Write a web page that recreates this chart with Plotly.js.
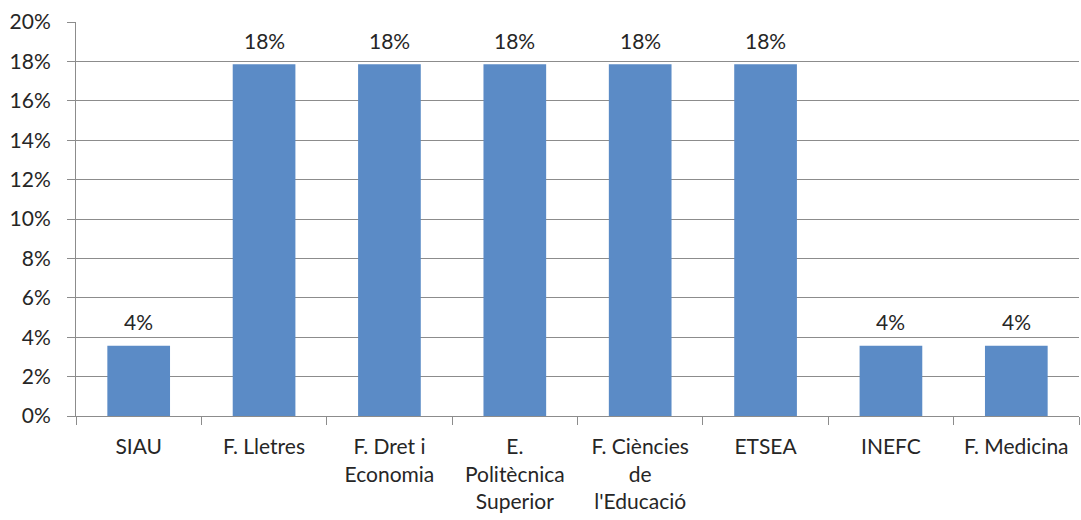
<!DOCTYPE html>
<html>
<head>
<meta charset="utf-8">
<script src="https://cdn.plot.ly/plotly-3.0.1.min.js"></script>
<style>body{margin:0;background:#fff}#chart{width:1081px;height:520px}</style>
</head>
<body>
<div id="chart"></div>
<script>
var categories = ["SIAU", "F. Lletres", "F. Dret i<br>Economia", "E.<br>Politècnica<br>Superior", "F. Ciències<br>de<br>l'Educació", "ETSEA", "INEFC", "F. Medicina"];
var values = [0.0357, 0.1786, 0.1786, 0.1786, 0.1786, 0.1786, 0.0357, 0.0357];
var yTicks = [0, 0.02, 0.04, 0.06, 0.08, 0.10, 0.12, 0.14, 0.16, 0.18, 0.20];

var font = "Lato, 'Open Sans', sans-serif";
var textColor = "#262626";
var trace = {
  type: "bar",
  x: categories,
  y: values,
  marker: {color: "#5b8bc6"},
  hoverinfo: "none"
};
var annotations = categories.map(function (c, i) {
  return {
    x: c, y: values[i], xref: "x", yref: "y",
    text: Math.round(values[i] * 100) + "%",
    showarrow: false, yanchor: "middle", yshift: 24,
    font: {family: font, size: 21, color: textColor}
  };
});
var layout = {
  width: 1081, height: 520,
  margin: {l: 76, r: 2, t: 22, b: 104},
  paper_bgcolor: "#fff", plot_bgcolor: "#fff",
  bargap: 0.5,
  showlegend: false,
  font: {family: font, size: 21, color: textColor},
  annotations: annotations,
  xaxis: {
    showline: true, linecolor: "#8c8c8c", linewidth: 1,
    ticks: "outside", ticklen: 8, tickcolor: "#8c8c8c",
    tickson: "boundaries",
    showgrid: false,
    tickfont: {family: font, size: 21, color: textColor},
    ticklabelstandoff: 12
  },
  yaxis: {
    range: [0, 0.20],
    tickvals: yTicks,
    tickformat: ".0%",
    showline: true, linecolor: "#8c8c8c", linewidth: 1,
    ticks: "outside", ticklen: 8, tickcolor: "#8c8c8c",
    showgrid: true, gridcolor: "#8c8c8c", gridwidth: 1,
    zeroline: false,
    tickfont: {family: font, size: 21, color: textColor},
    ticklabelstandoff: 12
  }
};
Plotly.newPlot("chart", [trace], layout, {staticPlot: true});
</script>
</body>
</html>
